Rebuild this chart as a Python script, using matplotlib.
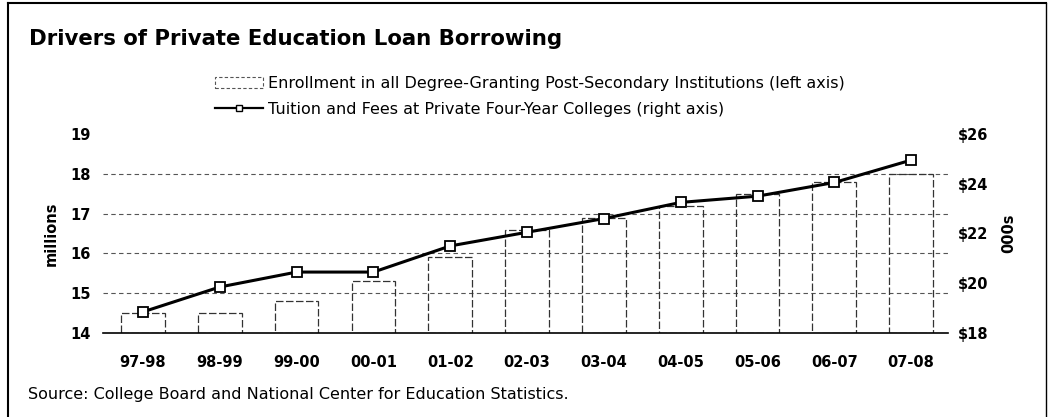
import matplotlib.pyplot as plt
from matplotlib.patches import Patch
from matplotlib.lines import Line2D

# data
years = ['97-98', '98-99', '99-00', '00-01', '01-02', '02-03',
         '03-04', '04-05', '05-06', '06-07', '07-08']
enrollment = [14.5, 14.5, 14.8, 15.3, 15.9, 16.6, 16.9, 17.2, 17.5, 17.8, 18.0]   # millions
tuition = [18.85, 19.85, 20.45, 20.45, 21.5, 22.05, 22.6, 23.25, 23.5, 24.05, 24.95]  # $000s

plt.rcParams['font.family'] = ['DejaVu Sans']

fig = plt.figure(figsize=(10.48, 4.17), dpi=100)
ax = fig.add_axes([0.0983, 0.2014, 0.8063, 0.4773])
x = list(range(len(years)))

# dotted grid, shows through the hollow bars
for v in [15, 16, 17, 18]:
    ax.axhline(v, color='#555555', lw=0.8, ls=(0, (4, 3)), zorder=1)

ax.bar(x, [e - 14 for e in enrollment], bottom=14, width=0.57,
       facecolor='none', edgecolor='#333333', lw=0.9, ls=(0, (6, 2)), zorder=2)
ax.set_ylim(14, 19)
ax.set_xlim(-0.52, 10.48)
ax.set_yticks([14, 15, 16, 17, 18, 19])
ax.set_xticks(x)
ax.set_xticklabels(years)
ax.set_ylabel('millions', fontsize=10.5, fontweight='bold', labelpad=8)
for s in ['top', 'left', 'right']:
    ax.spines[s].set_visible(False)
ax.spines['bottom'].set_linewidth(1.2)
ax.tick_params(axis='both', length=0, labelsize=10.5)
ax.tick_params(axis='x', pad=16)
ax.tick_params(axis='y', pad=9)
for t in ax.get_xticklabels() + ax.get_yticklabels():
    t.set_fontweight('bold')

ax2 = ax.twinx()
ax2.plot(x, tuition, color='black', lw=2.2, marker='s', markersize=7,
         markerfacecolor='white', markeredgecolor='black', markeredgewidth=1.3, zorder=5)
ax2.set_ylim(18, 26)
ax2.set_yticks([18, 20, 22, 24, 26])
ax2.set_yticklabels(['$18', '$20', '$22', '$24', '$26'])
ax2.set_ylabel('000s', fontsize=10.5, fontweight='bold', rotation=90, labelpad=9)
for s in ['top', 'left', 'right', 'bottom']:
    ax2.spines[s].set_visible(False)
ax2.tick_params(axis='y', length=0, labelsize=10.5, pad=7)
for t in ax2.get_yticklabels():
    t.set_fontweight('bold')

handles = [Patch(facecolor='white', edgecolor='#555555', lw=0.8, ls=(0, (3, 2))),
           Line2D([], [], color='black', lw=1.6, marker='s', markersize=5,
                  markerfacecolor='white', markeredgecolor='black')]
labels = ['Enrollment in all Degree-Granting Post-Secondary Institutions (left axis)',
          'Tuition and Fees at Private Four-Year Colleges (right axis)']
fig.legend(handles, labels, loc='upper left', bbox_to_anchor=(0.205, 0.818),
           frameon=False, fontsize=11.5, handlelength=3.0, handletextpad=0.35,
           labelspacing=0.68, borderpad=0, borderaxespad=0)

fig.text(0.028, 0.906, 'Drivers of Private Education Loan Borrowing',
         fontsize=15.3, fontweight='bold', va='center', ha='left')
fig.text(0.027, 0.053, 'Source: College Board and National Center for Education Statistics.',
         fontsize=11.5, va='center', ha='left')

# outer frame
fig.add_artist(Line2D([0.008, 0.008], [0.0, 0.993], color='black', lw=1.5))
fig.add_artist(Line2D([0.008, 0.998], [0.993, 0.993], color='black', lw=1.5))
fig.add_artist(Line2D([0.998, 0.998], [0.0, 0.993], color='black', lw=1.0))

fig.savefig('out.png', dpi=100)
